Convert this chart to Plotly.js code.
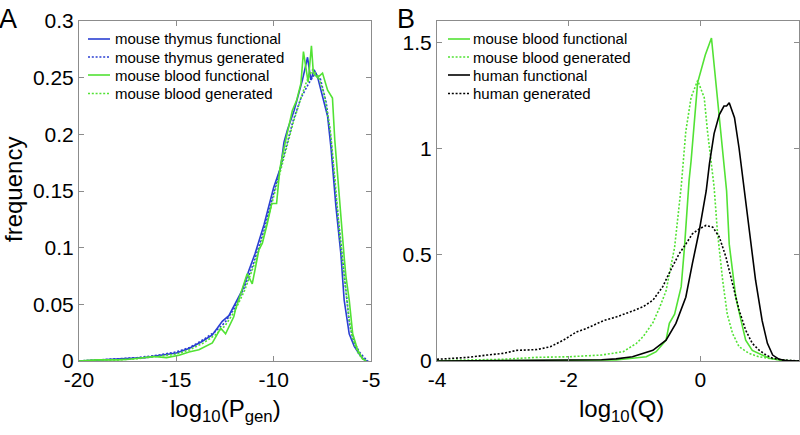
<!DOCTYPE html>
<html>
<head>
<meta charset="utf-8">
<script src="https://cdn.plot.ly/plotly-3.0.1.min.js"></script>
<style>html,body{margin:0;padding:0;background:#fff;}#chart{width:800px;height:435px;}</style>
</head>
<body>
<div id="chart"></div>
<script>
// ---------- Panel A: log10(Pgen) distributions ----------
const thymusFuncX = [-20,-19,-18.3,-17.5,-16.6,-15.8,-15.0,-14.35,-13.7,-13.15,-12.64,-12.3,-11.95,-11.6,-11.27,-10.95,-10.5,-10.0,-9.64,-9.47,-9.29,-8.95,-8.52,-8.26,-8.09,-7.92,-7.75,-7.58,-7.23,-7.06,-6.8,-6.55,-6.38,-6.12,-5.86,-5.52,-5.34,-5.2];
const thymusFuncY = [0,0.001,0.0015,0.002,0.003,0.005,0.007,0.011,0.017,0.023,0.035,0.040,0.051,0.063,0.080,0.095,0.120,0.153,0.171,0.193,0.204,0.221,0.248,0.268,0.248,0.257,0.251,0.239,0.216,0.189,0.136,0.095,0.054,0.024,0.013,0.004,0.001,0];

const thymusGenX = [-20,-19,-18,-17,-16,-15,-14.3,-13.6,-13,-12.5,-12,-11.5,-11,-10.5,-10,-9.5,-9,-8.6,-8.2,-7.85,-7.6,-7.3,-7.05,-6.8,-6.5,-6.3,-6.1,-5.9,-5.6,-5.35,-5.15];
const thymusGenY = [0,0.001,0.002,0.003,0.005,0.008,0.012,0.019,0.026,0.034,0.047,0.065,0.088,0.115,0.148,0.180,0.212,0.232,0.245,0.254,0.249,0.228,0.195,0.145,0.095,0.060,0.032,0.018,0.008,0.003,0];

const bloodFuncAX = [-20,-19,-18,-17.4,-16.2,-15.5,-14.86,-14.35,-13.84,-13.15,-12.72,-12.47,-12.05,-11.95,-11.36,-11.1,-10.76,-10.58,-10.33,-10.1,-9.85,-9.68,-9.38,-9.04,-8.82,-8.6,-8.47,-8.23,-8.06,-7.96,-7.75,-7.49,-7.23,-6.98,-6.86,-6.63,-6.38,-6.29,-6.12,-5.94,-5.69,-5.43,-5.26];
const bloodFuncAY = [0,0.001,0.001,0.0015,0.004,0.003,0.005,0.008,0.010,0.016,0.029,0.024,0.039,0.046,0.077,0.068,0.098,0.104,0.121,0.139,0.139,0.170,0.195,0.221,0.230,0.245,0.273,0.246,0.278,0.254,0.250,0.254,0.239,0.232,0.195,0.142,0.092,0.075,0.054,0.024,0.010,0.002,0];

const bloodGenAX = [-20,-19,-18,-17,-16,-15,-14.3,-13.6,-13,-12.5,-12,-11.5,-11,-10.5,-10,-9.5,-9,-8.6,-8.3,-8.0,-7.7,-7.4,-7.1,-6.85,-6.6,-6.35,-6.15,-5.95,-5.7,-5.45,-5.25];
const bloodGenAY = [0,0.001,0.001,0.002,0.004,0.006,0.010,0.016,0.023,0.031,0.044,0.062,0.085,0.112,0.145,0.178,0.210,0.232,0.247,0.257,0.251,0.235,0.205,0.160,0.110,0.070,0.040,0.020,0.008,0.002,0];

// ---------- Panel B: log10(Q) distributions ----------
const bloodFuncBX = [-4,-3,-2,-1.5,-1.28,-1.03,-0.82,-0.67,-0.6,-0.52,-0.47,-0.39,-0.29,-0.24,-0.17,-0.14,-0.04,0.076,0.17,0.24,0.31,0.36,0.40,0.44,0.54,0.62,0.69,0.79,0.94,1.05,1.2,1.3,1.5];
const bloodFuncBY = [0,0.001,0.002,0.003,0.005,0.013,0.02,0.044,0.067,0.098,0.177,0.22,0.35,0.535,0.85,0.94,1.31,1.44,1.52,1.30,1.08,0.92,0.80,0.55,0.30,0.19,0.098,0.05,0.028,0.013,0.005,0.001,0];

const bloodGenBX = [-4,-3.5,-3,-2.5,-2,-1.5,-1.17,-0.97,-0.87,-0.72,-0.62,-0.52,-0.39,-0.29,-0.22,-0.14,-0.04,0.06,0.11,0.21,0.26,0.34,0.41,0.49,0.59,0.74,0.89,1.1,1.3,1.5];
const bloodGenBY = [0.002,0.004,0.008,0.017,0.02,0.028,0.044,0.083,0.114,0.18,0.25,0.33,0.535,0.82,1.08,1.24,1.32,1.24,1.08,0.82,0.61,0.38,0.22,0.13,0.067,0.036,0.02,0.01,0.003,0];

const humanFuncX = [-4,-3,-2,-1.5,-1.28,-1.03,-0.72,-0.52,-0.37,-0.22,-0.12,-0.015,0.09,0.14,0.21,0.29,0.36,0.40,0.44,0.52,0.59,0.66,0.74,0.84,0.94,1.02,1.10,1.2,1.3,1.5];
const humanFuncY = [0,0.001,0.003,0.006,0.01,0.02,0.05,0.098,0.177,0.30,0.458,0.614,0.80,0.93,1.07,1.16,1.20,1.20,1.215,1.145,1.00,0.82,0.614,0.38,0.19,0.083,0.028,0.008,0.002,0];

const humanGenX = [-4,-3.75,-3.5,-3.24,-2.99,-2.79,-2.48,-2.28,-2.08,-1.88,-1.73,-1.47,-1.27,-1.03,-0.87,-0.72,-0.57,-0.44,-0.32,-0.22,-0.12,-0.015,0.086,0.19,0.29,0.39,0.49,0.59,0.69,0.79,0.89,1.0,1.1,1.25,1.4,1.5];
const humanGenY = [0.008,0.012,0.018,0.028,0.036,0.050,0.054,0.067,0.098,0.137,0.153,0.190,0.208,0.235,0.255,0.286,0.35,0.434,0.505,0.55,0.598,0.622,0.638,0.63,0.583,0.489,0.364,0.239,0.145,0.083,0.052,0.028,0.013,0.005,0.002,0.001];

const aTicks = [-20,-15,-10,-5];
const aTickText = ['-20','-15','-10','-5'];
const aYTicks = [0,0.05,0.1,0.15,0.2,0.25,0.3];
const aYTickText = ['0','0.05','0.1','0.15','0.2','0.25','0.3'];
const bTicks = [-4,-2,0];
const bTickText = ['-4','-2','0'];
const bYTicks = [0,0.5,1,1.5];
const bYTickText = ['0','0.5','1','1.5'];

const BLUE = '#2a3fd2';
const GREEN = '#52e234';
const BLACK = '#000000';
const FONT = 'Liberation Sans, Arial, Helvetica, sans-serif';
const DOTTED = '2px,1.8px';

const series = [
  {x: thymusFuncX, y: thymusFuncY, name: 'mouse thymus functional', color: BLUE, dash: 'solid', panel: 'A'},
  {x: thymusGenX, y: thymusGenY, name: 'mouse thymus generated', color: BLUE, dash: DOTTED, panel: 'A'},
  {x: bloodFuncAX, y: bloodFuncAY, name: 'mouse blood functional', color: GREEN, dash: 'solid', panel: 'A'},
  {x: bloodGenAX, y: bloodGenAY, name: 'mouse blood generated', color: GREEN, dash: DOTTED, panel: 'A'},
  {x: bloodFuncBX, y: bloodFuncBY, name: 'mouse blood functional', color: GREEN, dash: 'solid', panel: 'B'},
  {x: bloodGenBX, y: bloodGenBY, name: 'mouse blood generated', color: GREEN, dash: DOTTED, panel: 'B'},
  {x: humanFuncX, y: humanFuncY, name: 'human functional', color: BLACK, dash: 'solid', panel: 'B'},
  {x: humanGenX, y: humanGenY, name: 'human generated', color: BLACK, dash: DOTTED, panel: 'B'}
];

const data = series.map(s => ({
  x: s.x, y: s.y, name: s.name, type: 'scatter', mode: 'lines',
  line: {color: s.color, width: 1.6, dash: s.dash},
  xaxis: s.panel === 'A' ? 'x' : 'x2', yaxis: s.panel === 'A' ? 'y' : 'y2',
  showlegend: false, hoverinfo: 'skip'
}));

// manual legends (sample line + label), placed in paper pixels
const W = 800, H = 435;
const legendRows = [39, 57, 75, 93.5];
const legendPos = {A: {x0: 88, x1: 110, tx: 113}, B: {x0: 448, x1: 470, tx: 471}};
const shapes = [];
const annotations = [];
const rowCount = {A: 0, B: 0};
series.forEach(s => {
  const p = legendPos[s.panel];
  const yy = 1 - legendRows[rowCount[s.panel]++] / H;
  shapes.push({type: 'line', xref: 'paper', yref: 'paper', x0: p.x0 / W, x1: p.x1 / W, y0: yy, y1: yy,
    line: {color: s.color, width: 1.6, dash: s.dash}});
  annotations.push({text: s.name, xref: 'paper', yref: 'paper', x: p.tx / W, y: yy, xanchor: 'left', yanchor: 'middle',
    showarrow: false, font: {family: FONT, size: 15, color: '#000'}});
});

annotations.push(
  {text: 'A', xref: 'paper', yref: 'paper', x: -3/W, y: 1 - 2/H, xanchor: 'left', yanchor: 'top', showarrow: false, font: {family: FONT, size: 27, color: '#000'}},
  {text: 'B', xref: 'paper', yref: 'paper', x: 395/W, y: 1 - 2/H, xanchor: 'left', yanchor: 'top', showarrow: false, font: {family: FONT, size: 27, color: '#000'}},
  {text: 'frequency', xref: 'paper', yref: 'paper', x: 13/W, y: 1 - 190/H, xanchor: 'center', yanchor: 'middle', textangle: -90, showarrow: false, borderpad: 0, font: {family: FONT, size: 24, color: '#000'}},
  {text: 'log<sub>10</sub>(P<sub>gen</sub>)', xref: 'paper', yref: 'paper', x: 226/W, y: 1 - 410/H, xanchor: 'center', yanchor: 'middle', showarrow: false, font: {family: FONT, size: 24, color: '#000'}},
  {text: 'log<sub>10</sub>(Q)', xref: 'paper', yref: 'paper', x: 621/W, y: 1 - 410/H, xanchor: 'center', yanchor: 'middle', showarrow: false, font: {family: FONT, size: 24, color: '#000'}}
);

const axCommon = {
  showgrid: false, zeroline: false, showline: true, linecolor: '#8c8c8c', linewidth: 1,
  mirror: 'ticks', ticks: 'inside', ticklen: 5, tickcolor: '#8c8c8c', tickwidth: 1,
  tickfont: {family: FONT, size: 21, color: '#000'}, tickmode: 'array', automargin: false
};

const layout = {
  width: W, height: H,
  margin: {l: 0, r: 0, t: 0, b: 0},
  paper_bgcolor: '#fff', plot_bgcolor: '#fff',
  font: {family: FONT, color: '#000'},
  showlegend: false,
  xaxis: Object.assign({}, axCommon, {domain: [79/W, 371/W], range: [-20, -5], tickvals: aTicks, ticktext: aTickText, anchor: 'y'}),
  yaxis: Object.assign({}, axCommon, {domain: [74/H, 414/H], range: [0, 0.3], tickvals: aYTicks, ticktext: aYTickText, anchor: 'x'}),
  xaxis2: Object.assign({}, axCommon, {domain: [437/W, 799/W], range: [-4, 1.5], tickvals: bTicks, ticktext: bTickText, anchor: 'y2'}),
  yaxis2: Object.assign({}, axCommon, {domain: [74/H, 414/H], range: [0, 1.6], tickvals: bYTicks, ticktext: bYTickText, anchor: 'x2'}),
  shapes: shapes,
  annotations: annotations
};

Plotly.newPlot('chart', data, layout, {staticPlot: true, displayModeBar: false});
</script>
</body>
</html>
